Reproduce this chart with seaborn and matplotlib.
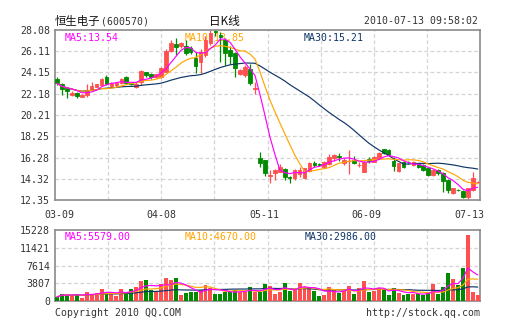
import numpy as np
import pandas as pd
import matplotlib
matplotlib.use("Agg")
import matplotlib.pyplot as plt
import seaborn as sns

# ---- daily quotes, 2010-03-09 .. 2010-07-13 ----
opens = [23.54, 23.08, 22.68, 22.06, 22.22, 21.90, 22.07, 22.53, 22.83, 22.98,
         23.70, 22.90, 22.95, 23.15, 23.70, 23.20, 22.85, 23.29, 24.16, 23.98,
         23.75, 23.76, 24.22, 26.16, 26.78, 26.60, 26.62, 26.41, 25.46, 25.14,
         25.76, 26.84, 27.99, 27.61, 27.15, 26.22, 25.92, 24.00, 23.91, 24.44,
         22.60, 16.20, 16.05, 14.60, 14.82, 14.97, 15.19, 14.50, 14.36, 14.80,
         14.40, 15.00, 15.74, 15.65, 15.40, 15.68, 16.20, 16.40, 15.74, 15.95,
         16.05, 15.55, 14.97, 16.10, 15.89, 16.26, 17.04, 16.97, 15.99, 14.99,
         15.89, 15.90, 15.59, 15.74, 15.59, 15.28, 14.66, 15.12, 14.88, 14.20,
         12.97, 13.30, 13.21, 12.66, 13.27, 14.00]
highs = [23.70, 23.20, 22.80, 22.40, 22.30, 22.15, 23.08, 23.26, 23.10, 23.60,
         23.90, 23.30, 23.30, 23.60, 23.80, 23.30, 23.30, 24.40, 24.20, 24.10,
         24.05, 24.70, 26.30, 27.15, 27.30, 26.95, 27.15, 26.60, 26.07, 26.30,
         27.50, 28.08, 28.08, 27.90, 27.30, 26.60, 26.00, 24.50, 24.80, 24.90,
         23.30, 16.82, 16.05, 15.12, 15.20, 15.70, 15.30, 14.60, 15.20, 15.40,
         15.30, 15.90, 16.00, 15.80, 15.95, 16.60, 16.60, 16.70, 16.20, 16.97,
         16.40, 15.90, 15.95, 16.30, 16.40, 16.80, 17.10, 17.04, 16.30, 15.80,
         15.95, 16.00, 15.95, 15.80, 15.65, 15.30, 15.20, 15.20, 14.95, 14.25,
         13.50, 13.35, 13.30, 13.50, 14.97, 14.15]
lows = [23.00, 22.06, 21.76, 21.95, 21.78, 21.85, 21.88, 22.45, 22.80, 22.95,
        23.00, 22.85, 22.85, 23.05, 23.15, 23.00, 22.70, 22.95, 23.70, 23.50,
        23.60, 23.60, 24.20, 26.00, 25.76, 26.40, 25.80, 25.90, 24.07, 24.07,
        25.60, 26.70, 27.50, 25.10, 24.80, 24.90, 23.70, 23.90, 23.70, 23.00,
        22.20, 15.43, 14.60, 13.90, 14.20, 14.90, 14.20, 13.90, 14.20, 14.50,
        14.30, 14.97, 15.40, 15.45, 15.30, 15.60, 16.00, 16.00, 15.60, 14.72,
        15.70, 15.40, 14.90, 15.80, 15.85, 16.20, 16.60, 16.40, 15.00, 14.95,
        15.30, 15.70, 15.50, 15.30, 15.05, 14.55, 14.60, 14.65, 13.10, 13.00,
        12.90, 13.20, 12.50, 12.40, 13.20, 13.90]
closes = [23.15, 22.59, 22.46, 22.28, 21.97, 22.09, 22.53, 22.90, 23.05, 23.54,
          23.08, 23.15, 23.20, 23.54, 23.20, 23.10, 23.10, 24.31, 23.91, 23.76,
          24.00, 24.53, 26.16, 26.84, 26.53, 26.84, 25.92, 26.07, 24.74, 26.07,
          27.15, 27.77, 27.85, 27.40, 25.92, 25.67, 24.53, 24.37, 24.62, 23.15,
          22.70, 15.74, 14.82, 14.66, 15.12, 15.37, 14.45, 14.36, 15.12, 15.10,
          15.28, 15.80, 15.60, 15.55, 15.89, 16.36, 16.51, 16.30, 16.05, 15.99,
          15.80, 15.59, 15.89, 15.96, 16.36, 16.72, 16.72, 16.51, 15.50, 15.74,
          15.43, 15.85, 15.89, 15.37, 15.12, 14.66, 15.12, 14.82, 14.14, 13.27,
          13.43, 13.27, 12.60, 13.43, 14.36, 14.04]
volumes = [870, 1595, 1380, 1233, 1595, 650, 1958, 1595, 1740, 2538,
           1450, 1958, 1088, 2538, 1958, 2538, 3045, 4278, 4495, 2320,
           2103, 3553, 4858, 4495, 5003, 1233, 1740, 1958, 1958, 2390,
           3480, 2760, 1595, 1595, 1958, 1958, 2400, 1958, 1958, 3045,
           1958, 1958, 3625, 3190, 1595, 1958, 3915, 2175, 2320, 3915,
           3045, 2900, 2175, 1088, 1378, 3045, 2400, 1813, 2175, 3200,
           1450, 2828, 4300, 1958, 2175, 2800, 2465, 1378, 2844, 1740,
           1378, 1595, 1595, 1450, 1378, 1958, 3600, 1450, 3025, 6090,
           4640, 3408, 7178, 14065, 2011, 1233]

date_labels = ["03-09", "04-08", "05-11", "06-09", "07-13"]
price_ticks = [12.35, 14.32, 16.28, 18.25, 20.21, 22.18, 24.15, 26.11, 28.08]
volume_ticks = [0, 3807, 7614, 11421, 15228]

RED = "#ff4f4f"
GREEN = "#008a00"
MA5_C = "#ff00ff"
MA10_C = "#ffa500"
MA30_C = "#0f3566"
GRID_C = "#d4d4d4"
FRAME_C = "#8a8a8a"
TEXT_C = "#333333"

df = pd.DataFrame({"open": opens, "high": highs, "low": lows,
                   "close": closes, "volume": volumes})
df["idx"] = np.arange(len(df))
for n in (5, 10, 30):
    df[f"ma{n}"] = df["close"].rolling(n, min_periods=1).mean()
    df[f"vma{n}"] = df["volume"].rolling(n, min_periods=1).mean()
up = df["close"] >= df["open"]
colors = np.where(up, RED, GREEN)

sns.set_style("white")
MONO = ["DejaVu Sans Mono", "Noto Sans CJK SC"]
plt.rcParams["font.family"] = MONO
plt.rcParams["font.size"] = 7.1

W, H = 505, 330
fig = plt.figure(figsize=(W / 100, H / 100), dpi=100)
fig.patch.set_facecolor("white")

def fx(px):
    return px / W

def fy(py):
    return 1 - py / H

ax = fig.add_axes([fx(55), fy(200), fx(425), 170 / H])
axv = fig.add_axes([fx(55), fy(301), fx(425), 71 / H])

n = len(df)
xlim = (-0.4, n - 1 + 0.45)

def frame(a):
    for s in a.spines.values():
        s.set_color(FRAME_C)
        s.set_linewidth(1.2)
    a.set_xlim(*xlim)
    a.set_xticks([])
    a.tick_params(axis="y", length=0, pad=3.5, labelsize=7.1, labelcolor=TEXT_C)
    for k in range(1, 8):
        a.plot([k / 8, k / 8], [0, 1], transform=a.transAxes, color=GRID_C,
               lw=0.9, ls=(0, (3, 2)), zorder=0)

def legend_text(a, px, py_frac, text, color):
    a.text((px - 55) / 425, py_frac, text, transform=a.transAxes, color=color,
           va="center", ha="left", fontsize=7.1, zorder=1)

# ---- price panel ----
ax.set_ylim(price_ticks[0], price_ticks[-1])
ax.set_yticks(price_ticks)
ax.set_yticklabels([f"{t:.2f}" for t in price_ticks])
for t in price_ticks[1:-1]:
    ax.axhline(t, color=GRID_C, lw=0.9, ls=(0, (3, 2)), zorder=0)
frame(ax)

legend_text(ax, 65, 0.955, f"MA5:{df['ma5'].iloc[-1]:.2f}", MA5_C)
legend_text(ax, 185, 0.955, f"MA10:{df['ma10'].iloc[-1]:.2f}", MA10_C)
legend_text(ax, 304, 0.955, f"MA30:{df['ma30'].iloc[-1]:.2f}", MA30_C)

ax.vlines(df["idx"], df["low"], df["high"], colors=colors, lw=0.9, zorder=2)
body_lo = np.minimum(df["open"], df["close"])
body_h = np.abs(df["close"] - df["open"])
ax.bar(df["idx"], body_h, bottom=body_lo, width=0.74, color=colors,
       edgecolor=colors, linewidth=0.6, zorder=3)

for col, c in (("ma30", MA30_C), ("ma10", MA10_C), ("ma5", MA5_C)):
    sns.lineplot(data=df, x="idx", y=col, ax=ax, color=c, lw=0.85, zorder=4)
ax.set_xlabel("")
ax.set_ylabel("")
ax.set_xlim(*xlim)

# ---- volume panel ----
axv.set_ylim(0, volume_ticks[-1])
axv.set_yticks(volume_ticks)
axv.set_yticklabels([str(t) for t in volume_ticks])
for t in volume_ticks[1:-1]:
    axv.axhline(t, color=GRID_C, lw=0.9, ls=(0, (3, 2)), zorder=0)
frame(axv)

vy = 1 - (236.5 - 230) / 71
legend_text(axv, 65, vy, f"MA5:{df['vma5'].iloc[-1]:.2f}", MA5_C)
legend_text(axv, 185, vy, f"MA10:{df['vma10'].iloc[-1]:.2f}", MA10_C)
legend_text(axv, 305, vy, f"MA30:{df['vma30'].iloc[-1]:.2f}", MA30_C)

axv.bar(df["idx"], df["volume"], width=0.8, color=colors, linewidth=0, zorder=3)
for col, c in (("vma30", MA30_C), ("vma10", MA10_C), ("vma5", MA5_C)):
    sns.lineplot(data=df, x="idx", y=col, ax=axv, color=c, lw=0.85, zorder=4)
axv.set_xlabel("")
axv.set_ylabel("")
axv.set_xlim(*xlim)

# ---- date labels under the price panel ----
label_px = [59.5, 161.3, 264.5, 366.0, 469.5]
for lab, px in zip(date_labels, label_px):
    fig.text(fx(px), fy(214.5), lab, ha="center", va="center",
             color=TEXT_C, fontsize=7.1)

# ---- header and footer ----
fig.text(fx(55), fy(21.5), "恒生电子", family=["Noto Sans CJK SC"],
         fontsize=8.2, ha="left", va="center", color="#111111")
fig.text(fx(101), fy(21.5), "(600570)", fontsize=7.1, ha="left",
         va="center", color=TEXT_C)
fig.text(fx(224), fy(21.5), "日K线", family=["Noto Sans CJK SC"],
         fontsize=8.4, ha="center", va="center", color="#111111")
fig.text(fx(478), fy(21.5), "2010-07-13 09:58:02", fontsize=7.1,
         ha="right", va="center", color=TEXT_C)
fig.text(fx(55), fy(312.5), "Copyright 2010 QQ.COM", fontsize=7.1,
         ha="left", va="center", color=TEXT_C)
fig.text(fx(480), fy(312.5), "http://stock.qq.com", fontsize=7.1,
         ha="right", va="center", color=TEXT_C)

fig.savefig("out.png", dpi=100, facecolor="white")
